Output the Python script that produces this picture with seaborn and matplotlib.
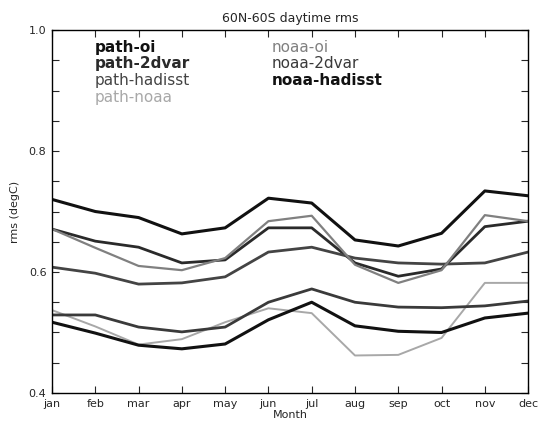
import numpy as np
import pandas as pd
import matplotlib
matplotlib.use("Agg")
import matplotlib.pyplot as plt
from matplotlib.ticker import MultipleLocator
import seaborn as sns

# Months on the x axis
months = ['jan', 'feb', 'mar', 'apr', 'may', 'jun',
          'jul', 'aug', 'sep', 'oct', 'nov', 'dec']
y_ticks = [0.4, 0.6, 0.8, 1.0]
y_ticklabels = ['0.4', '0.6', '0.8', '1.0']

# rms values (degC)
path_oi = [0.72, 0.70, 0.69, 0.663, 0.673, 0.722, 0.714, 0.653, 0.643, 0.664, 0.734, 0.726]
path_2dvar = [0.671, 0.651, 0.641, 0.615, 0.62, 0.673, 0.673, 0.615, 0.593, 0.605, 0.675, 0.684]
noaa_oi = [0.671, 0.64, 0.61, 0.603, 0.623, 0.684, 0.693, 0.612, 0.582, 0.603, 0.694, 0.684]
path_hadisst = [0.608, 0.598, 0.58, 0.582, 0.592, 0.633, 0.641, 0.623, 0.615, 0.613, 0.615, 0.633]
noaa_2dvar = [0.529, 0.529, 0.509, 0.501, 0.509, 0.55, 0.572, 0.55, 0.542, 0.541, 0.544, 0.552]
noaa_hadisst = [0.517, 0.499, 0.479, 0.473, 0.481, 0.521, 0.55, 0.511, 0.502, 0.50, 0.524, 0.532]
path_noaa = [0.537, 0.51, 0.48, 0.489, 0.517, 0.54, 0.532, 0.462, 0.463, 0.491, 0.582, 0.582]

series = {
    'path-oi': path_oi,
    'path-2dvar': path_2dvar,
    'path-hadisst': path_hadisst,
    'path-noaa': path_noaa,
    'noaa-oi': noaa_oi,
    'noaa-2dvar': noaa_2dvar,
    'noaa-hadisst': noaa_hadisst,
}
colors = {
    'path-oi': '#111111',
    'path-2dvar': '#2a2a2a',
    'path-hadisst': '#444444',
    'path-noaa': '#a8a8a8',
    'noaa-oi': '#808080',
    'noaa-2dvar': '#3a3a3a',
    'noaa-hadisst': '#111111',
}
widths = {
    'path-oi': 2.2, 'path-2dvar': 2.0, 'path-hadisst': 2.0, 'path-noaa': 1.4,
    'noaa-oi': 1.6, 'noaa-2dvar': 2.0, 'noaa-hadisst': 2.2,
}

rows = []
for name, vals in series.items():
    for i, v in enumerate(vals):
        rows.append({'month': i, 'rms': v, 'series': name})
df = pd.DataFrame(rows)

sns.set_style("ticks")
fig = plt.figure(figsize=(5.4, 4.26), dpi=100)
ax = fig.add_axes([0.0963, 0.0775, 0.8817, 0.852])

for name in series:
    sns.lineplot(data=df[df['series'] == name], x='month', y='rms',
                 color=colors[name], linewidth=widths[name], ax=ax,
                 legend=False)

ax.set_xlim(0, 11)
ax.set_ylim(0.4, 1.0)
ax.set_xticks(range(12))
ax.set_xticklabels(months, fontsize=8)
ax.set_yticks(y_ticks)
ax.set_yticklabels(y_ticklabels, fontsize=8)
ax.yaxis.set_minor_locator(MultipleLocator(0.05))
ax.tick_params(axis='both', which='both', direction='in', top=True, right=True,
               length=5, width=0.8, pad=4)
ax.tick_params(axis='y', which='minor', length=5)
for s in ax.spines.values():
    s.set_linewidth(1.0)
    s.set_color('black')

ax.set_title('60N-60S daytime rms', fontsize=9, pad=6)
ax.set_xlabel('Month', fontsize=8, labelpad=1)
ax.set_ylabel('rms (degC)', fontsize=8, labelpad=6)

# text-only legend in two columns
left_col = ['path-oi', 'path-2dvar', 'path-hadisst', 'path-noaa']
right_col = ['noaa-oi', 'noaa-2dvar', 'noaa-hadisst']
bold = {'path-oi', 'path-2dvar', 'noaa-hadisst'}
for col, x0 in [(left_col, 0.09), (right_col, 0.462)]:
    for k, name in enumerate(col):
        ax.text(x0, 0.953 - k * 0.046, name, transform=ax.transAxes,
                color=colors[name], fontsize=11,
                fontweight='bold' if name in bold else 'normal',
                va='center', ha='left')

fig.savefig('out.png', dpi=100)
